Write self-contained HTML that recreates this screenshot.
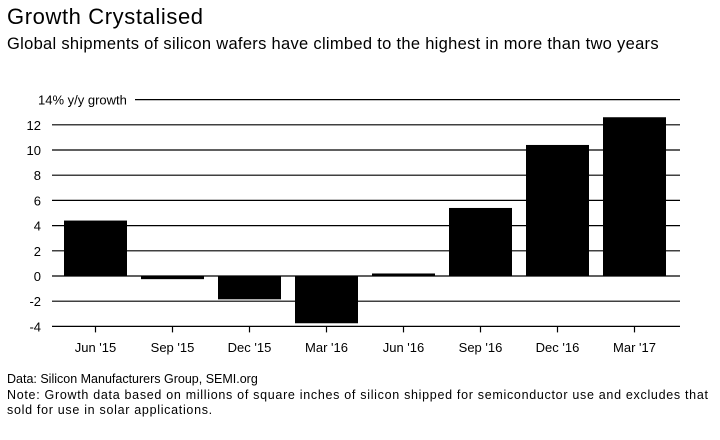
<!DOCTYPE html>
<html><head><meta charset="utf-8"><style>
body{margin:0;background:#fff;font-family:"Liberation Sans",sans-serif;color:#000}
#wrap{position:relative;width:720px;height:440px;overflow:hidden}
.t{position:absolute;white-space:nowrap}
</style></head><body>
<div id="wrap">
<div class="t" style="left:7px;top:4px;font-size:22px;letter-spacing:0.6px">Growth Crystalised</div>
<div class="t" style="left:7px;top:35px;font-size:16.5px;letter-spacing:0.3px">Global shipments of silicon wafers have climbed to the highest in more than two years</div>
<svg id="svg" width="720" height="440" style="position:absolute;left:0;top:0"></svg>
<div class="t" style="left:7px;top:372px;font-size:12.5px">Data: Silicon Manufacturers Group, SEMI.org</div>
<div class="t" style="left:7px;top:388px;font-size:12.5px;letter-spacing:0.7px;line-height:15px;white-space:normal;width:712px">Note: Growth data based on millions of square inches of silicon shipped for semiconductor use and excludes that<br>sold for use in solar applications.</div>
</div>
<script>
const categories=["Jun '15","Sep '15","Dec '15","Mar '16","Jun '16","Sep '16","Dec '16","Mar '17"];
const values=[4.4,-0.25,-1.85,-3.75,0.2,5.4,10.4,12.6];
const yTicks=[-4,-2,0,2,4,6,8,10,12,14];
const tickLabels=["-4","-2","0","2","4","6","8","10","12","14% y/y growth"];
const NS="http://www.w3.org/2000/svg";
const svg=document.getElementById('svg');
const y=v=>276-v*12.6;
const x=i=>64+i*77;
const bw=63;
function mk(t,a){const e=document.createElementNS(NS,t);for(const k in a)e.setAttribute(k,a[k]);svg.appendChild(e);return e;}
yTicks.forEach((v,i)=>{
  const top=i===yTicks.length-1;
  const g=mk('line',{x1:top?135:52,x2:680,y1:y(v),y2:y(v),stroke:'#000','stroke-width':1.2});
  
  
  const t=mk('text',{x:top?38:41,y:y(v)+5,'font-size':13,'text-anchor':top?'start':'end','font-family':'Liberation Sans, sans-serif'});
  t.textContent=tickLabels[i];
  
  
});
values.forEach((v,i)=>{
  const r=mk('rect',{x:x(i),y:Math.min(y(v),y(0)),width:bw,height:Math.abs(y(v)-y(0)),fill:'#000'});
  
  
  const c=x(i)+bw/2;
  const tk=mk('line',{x1:c,x2:c,y1:y(-4),y2:y(-4)+6,stroke:'#000','stroke-width':1.2});
  
  
  const t=mk('text',{x:c,y:352,'font-size':13,'text-anchor':'middle','font-family':'Liberation Sans, sans-serif'});
  t.textContent=categories[i];
  
  
});
</script>
</body></html>
